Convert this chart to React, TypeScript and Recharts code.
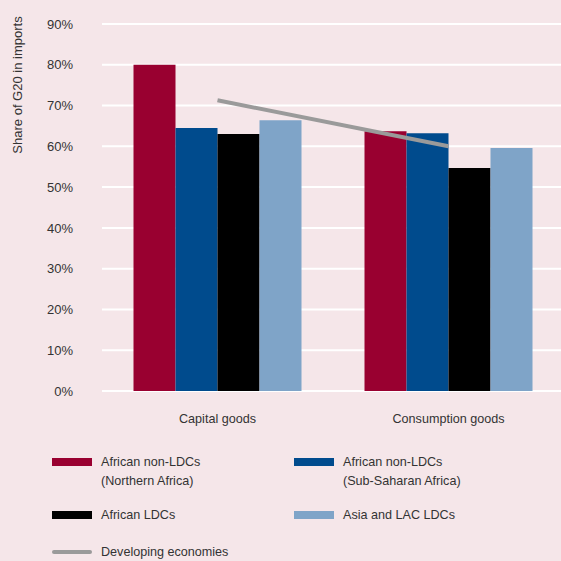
import React from 'react';
import { ComposedChart, Bar, Line, XAxis, YAxis, CartesianGrid } from 'recharts';

const categories = ['Capital goods', 'Consumption goods'];
const northernAfrica = [80, 63.7];
const subSaharanAfrica = [64.5, 63.2];
const africanLDCs = [63.0, 54.7];
const asiaLACLDCs = [66.4, 59.6];
const developingEconomies = [71.3, 60.0];
const yTicks = [0, 10, 20, 30, 40, 50, 60, 70, 80, 90];

const data = categories.map((c, i) => ({
  name: c,
  na: northernAfrica[i],
  ssa: subSaharanAfrica[i],
  ldc: africanLDCs[i],
  asia: asiaLACLDCs[i],
  dev: developingEconomies[i],
}));

const FONT = '"Liberation Sans", Arial, sans-serif';
const TEXT = '#333333';
const RED = '#990030';
const BLUE = '#004B8D';
const BLACK = '#000000';
const LIGHT = '#7FA4C8';
const GREY = '#9A9A9A';

const legendText: React.CSSProperties = {
  position: 'absolute',
  fontFamily: FONT,
  fontSize: 12.6,
  lineHeight: '19px',
  color: TEXT,
  whiteSpace: 'nowrap',
};

export default function App() {
  return (
    <div style={{ position: 'fixed', left: 0, top: 0, width: 561, height: 561, overflow: 'hidden', background: '#F5E6E9' }}>
      <ComposedChart
        width={564}
        height={561}
        data={data}
        margin={{ top: 24, right: 0, bottom: 0, left: 0 }}
        barGap={0}
        barCategoryGap={31.5}
      >
        <CartesianGrid horizontal vertical={false} stroke="#FFFFFF" strokeWidth={2} />
        <XAxis
          dataKey="name"
          axisLine={false}
          tickLine={false}
          tickSize={0}
          tickMargin={23}
          height={170}
          tick={{ fontFamily: FONT, fontSize: 12.6, fill: TEXT }}
        />
        <YAxis
          domain={[0, 90]}
          ticks={yTicks}
          interval={0}
          width={102}
          axisLine={false}
          tickLine={false}
          tickSize={0}
          tickMargin={29}
          tickFormatter={(v: number) => `${v}%`}
          tick={{ fontFamily: FONT, fontSize: 13, fill: TEXT }}
        />
        <Bar dataKey="na" fill={RED} isAnimationActive={false} />
        <Bar dataKey="ssa" fill={BLUE} isAnimationActive={false} />
        <Bar dataKey="ldc" fill={BLACK} isAnimationActive={false} />
        <Bar dataKey="asia" fill={LIGHT} isAnimationActive={false} />
        <Line dataKey="dev" stroke={GREY} strokeWidth={4} dot={false} activeDot={false} type="linear" isAnimationActive={false} />
      </ComposedChart>
      <svg style={{ position: 'absolute', left: 0, top: 0 }} width={40} height={200}>
        <text
          x={22}
          y={85}
          transform="rotate(-90 22 85)"
          textAnchor="middle"
          fontFamily={FONT}
          fontSize={13}
          fill={TEXT}
        >
          Share of G20 in imports
        </text>
      </svg>
      <div style={{ position: 'absolute', left: 0, top: 448, width: 561, height: 113 }}>
        <div style={{ position: 'absolute', left: 52, top: 10, width: 40, height: 8, background: RED }} />
        <div style={{ ...legendText, left: 101, top: 4.5 }}>African non-LDCs<br />(Northern Africa)</div>
        <div style={{ position: 'absolute', left: 294, top: 10, width: 40, height: 8, background: BLUE }} />
        <div style={{ ...legendText, left: 343, top: 4.5 }}>African non-LDCs<br />(Sub-Saharan Africa)</div>
        <div style={{ position: 'absolute', left: 52, top: 63, width: 40, height: 8, background: BLACK }} />
        <div style={{ ...legendText, left: 101, top: 57.5 }}>African LDCs</div>
        <div style={{ position: 'absolute', left: 294, top: 63, width: 40, height: 8, background: LIGHT }} />
        <div style={{ ...legendText, left: 343, top: 57.5 }}>Asia and LAC LDCs</div>
        <div style={{ position: 'absolute', left: 52, top: 102, width: 40, height: 4, borderRadius: 2, background: GREY }} />
        <div style={{ ...legendText, left: 101, top: 94.5 }}>Developing economies</div>
      </div>
    </div>
  );
}
